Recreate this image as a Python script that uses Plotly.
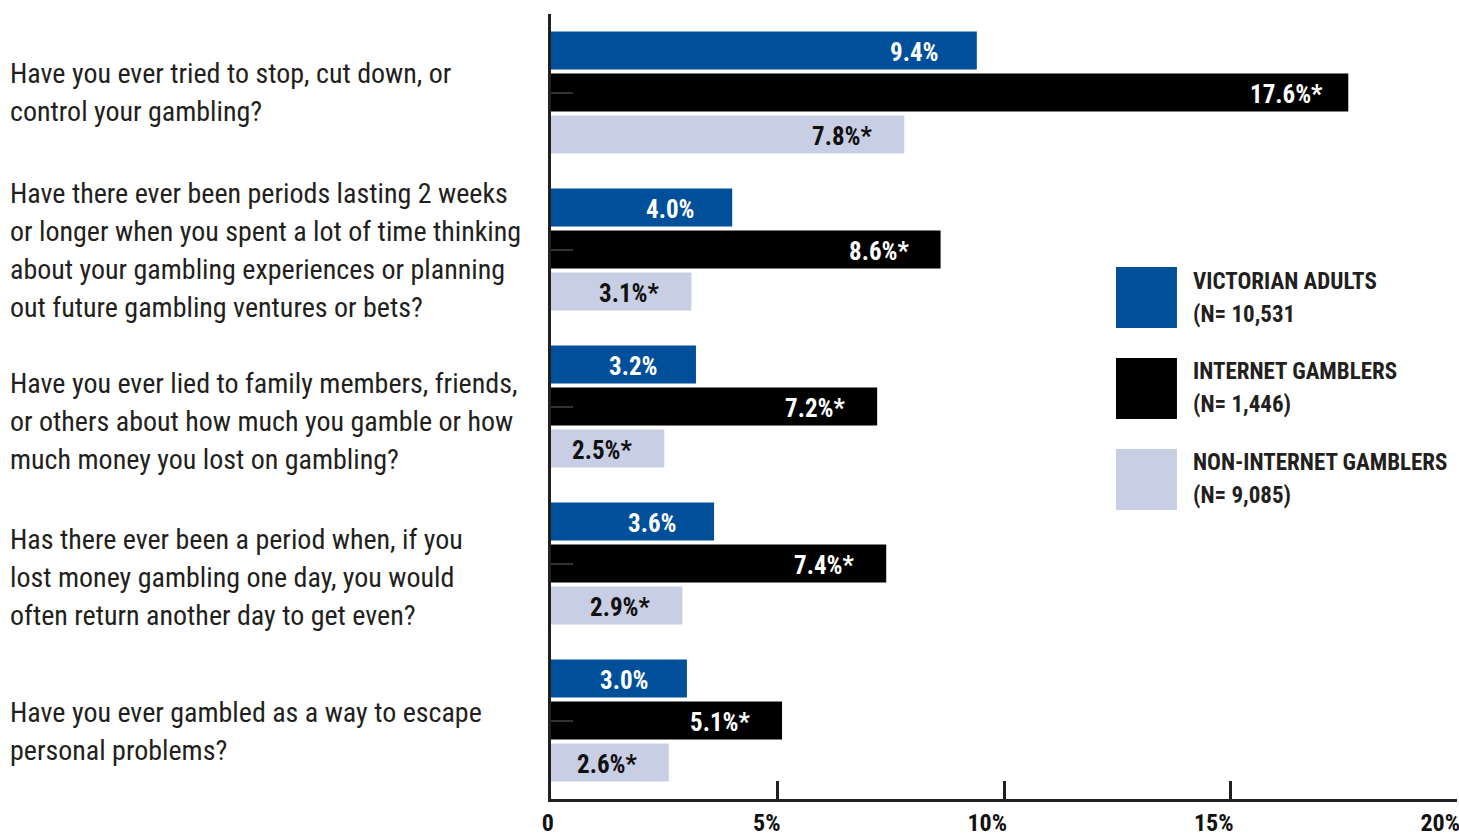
import plotly.graph_objects as go

questions = [
    "Have you ever tried to stop, cut down, or<br>control your gambling?",
    "Have there ever been periods lasting 2 weeks<br>or longer when you spent a lot of time thinking<br>about your gambling experiences or planning<br>out future gambling ventures or bets?",
    "Have you ever lied to family members, friends,<br>or others about how much you gamble or how<br>much money you lost on gambling?",
    "Has there ever been a period when, if you<br>lost money gambling one day, you would<br>often return another day to get even?",
    "Have you ever gambled as a way to escape<br>personal problems?",
]
series_names = ["VICTORIAN ADULTS", "INTERNET GAMBLERS", "NON-INTERNET GAMBLERS"]
series_n = ["(N= 10,531", "(N= 1,446)", "(N= 9,085)"]
victorian = [9.4, 4.0, 3.2, 3.6, 3.0]
internet = [17.6, 8.6, 7.2, 7.4, 5.1]
non_internet = [7.8, 3.1, 2.5, 2.9, 2.6]
victorian_lbl = ["9.4%", "4.0%", "3.2%", "3.6%", "3.0%"]
internet_lbl = ["17.6%*", "8.6%*", "7.2%*", "7.4%*", "5.1%*"]
non_internet_lbl = ["7.8%*", "3.1%*", "2.5%*", "2.9%*", "2.6%*"]
tick_vals = [0, 5, 10, 15, 20]
tick_text = ["0", "5%", "10%", "15%", "20%"]

colors = ["#004f9b", "#000000", "#c8cfe4"]
text_colors = ["white", "white", "#111111"]
FONT = "Roboto Condensed, Liberation Sans Narrow, Arial Narrow, sans-serif"
TXT = "#231f20"
LINE_H = 38          # px between question label lines
LEG_LINE_H = 33      # px between legend label lines
label_nudge = [0, -1, -15, -14, -11]   # small vertical layout nudges of question labels (px)

series_vals = [victorian, internet, non_internet]
series_lbls = [victorian_lbl, internet_lbl, non_internet_lbl]

fig = go.Figure()
for name, vals, col in zip(series_names, series_vals, colors):
    fig.add_trace(go.Bar(
        y=questions, x=vals, orientation="h", name=name,
        marker=dict(color=col, line=dict(width=0)), showlegend=False,
        hoverinfo="x",
    ))

annotations = []
# bar value labels
for i, (vals, lbls) in enumerate(zip(series_vals, series_lbls)):
    for q, v, t in zip(questions, vals, lbls):
        annotations.append(dict(
            x=v, y=q, xref="x", yref="y", text=t, showarrow=False,
            xanchor="center", yanchor="middle", xshift=-62, yshift=(1 - i) * 42 - 2,
            font=dict(family=FONT, size=25, color=text_colors[i], weight="bold"),
        ))
# question labels (one annotation per line for exact line spacing)
for q, nudge in zip(questions, label_nudge):
    lines = q.split("<br>")
    n = len(lines)
    for k, line in enumerate(lines):
        annotations.append(dict(
            x=0, y=q, xref="paper", yref="y", text=line, showarrow=False,
            xanchor="left", yanchor="middle", align="left", xshift=-543,
            yshift=((n - 1) / 2 - k) * LINE_H + nudge,
            font=dict(family=FONT, size=28, color=TXT),
        ))

# custom legend
shapes = []
leg_x0, leg_x1, leg_tx = 0.6236, 0.6909, 0.7064
leg_top, sq_h, step = 0.6777, 0.0777, 0.1159
for i, (name, n, col) in enumerate(zip(series_names, series_n, colors)):
    y1 = leg_top - i * step
    y0 = y1 - sq_h
    shapes.append(dict(type="rect", xref="paper", yref="paper", x0=leg_x0, x1=leg_x1,
                       y0=y0, y1=y1, fillcolor=col, line=dict(width=0)))
    for k, line in enumerate([name, n]):
        annotations.append(dict(
            x=leg_tx, y=(y0 + y1) / 2, xref="paper", yref="paper",
            text=line, showarrow=False, xanchor="left", yanchor="middle",
            yshift=(0.5 - k) * LEG_LINE_H,
            font=dict(family=FONT, size=23, color=TXT, weight="bold"),
        ))

fig.update_layout(
    width=1459, height=834,
    margin=dict(l=551, r=2, t=14, b=35, autoexpand=False),
    paper_bgcolor="white", plot_bgcolor="white",
    barmode="group", bargap=0.197, bargroupgap=0.095,
    annotations=annotations, shapes=shapes,
    xaxis=dict(
        range=[0, 20], tickvals=tick_vals, ticktext=tick_text, automargin=False,
        showgrid=False, zeroline=False, showline=True, linewidth=3, linecolor=TXT,
        ticks="inside", ticklen=18, tickwidth=3, tickcolor=TXT,
        ticklabelposition="outside left", ticklabelshift=6, ticklabeloverflow="allow",
        tickfont=dict(family=FONT, size=24, color="#111111", weight="bold"),
        fixedrange=True,
    ),
    yaxis=dict(
        autorange="reversed", showticklabels=False, showgrid=False, zeroline=False,
        showline=True, linewidth=3, linecolor=TXT, automargin=False,
        ticks="inside", ticklen=22, tickwidth=2, tickcolor="#333333",
        fixedrange=True,
    ),
)

fig.write_html("out.html")
